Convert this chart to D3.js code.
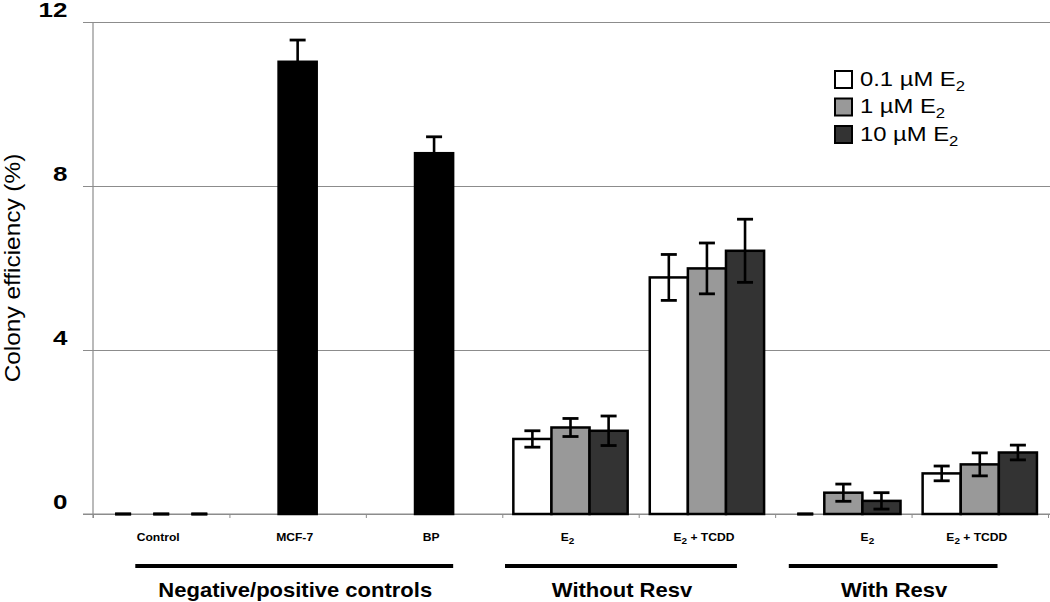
<!DOCTYPE html>
<html>
<head>
<meta charset="utf-8">
<script src="https://cdn.jsdelivr.net/npm/d3@7"></script>
<style>
  html, body { margin: 0; padding: 0; background: #fff; }
  svg { display: block; font-family: "Liberation Sans", Arial, sans-serif; }
</style>
</head>
<body>
<svg id="chart" width="1050" height="602"></svg>
<script>
// ---------------- data ----------------
const categories = ["Control", "MCF-7", "BP", "E2", "E2 + TCDD", "E2", "E2 + TCDD"];
const seriesNames = ["0.1 µM E2", "1 µM E2", "10 µM E2"];
const low      = [0, null, null, 1.83, 5.77, 0,    0.99];
const lowErr   = [0, null, null, 0.20, 0.56, 0,    0.18];
const mid      = [0, 11.03, 8.80, 2.11, 5.99, 0.52, 1.21];
const midErr   = [0, 0.53, 0.40, 0.22, 0.62, 0.21, 0.28];
const high     = [0, null, null, 2.03, 6.42, 0.32, 1.50];
const highErr  = [0, null, null, 0.36, 0.77, 0.20, 0.18];
const positiveControls = ["MCF-7", "BP"];
const groups = ["Negative/positive controls", "Without Resv", "With Resv"];
const yTicks = [0, 4, 8, 12];
const yTitle = "Colony efficiency (%)";

// ---------------- layout ----------------
const svg = d3.select("#chart");
const X0 = 93, X1 = 1048, Y0 = 514, Y1 = 22;
const fills = ["#ffffff", "#999999", "#333333"];

const y = d3.scaleLinear().domain([0, 12]).range([Y0, Y1]);
const xIdx = d3.scaleLinear().domain([0, categories.length]).range([X0, X1]);
const x0 = d3.scaleBand().domain(d3.range(categories.length)).range([X0, X1]).paddingInner(0).paddingOuter(0);
const x1 = d3.scaleBand().domain([0, 1, 2]).range([0, x0.bandwidth()]).paddingInner(0).paddingOuter(0.29);

// ---------------- grid + y axis ----------------
const yAxis = d3.axisLeft(y).tickValues(yTicks).tickSize(-(1050 - X0)).tickFormat(d3.format("d"));
const gy = svg.append("g").attr("transform", `translate(${X0},0)`).call(yAxis);
gy.select(".domain").remove();
gy.selectAll(".tick line").attr("x1", -10).attr("stroke", "#8c8c8c").attr("stroke-width", 1.2);
gy.selectAll(".tick text")
  .attr("x", 0).attr("dy", 0).attr("y", 0)
  .attr("transform", "translate(-25.5,-6) scale(1.3,1)")
  .attr("text-anchor", "end")
  .attr("font-size", 20).attr("font-weight", "bold")
  .attr("font-family", "Liberation Sans, Arial, sans-serif")
  .attr("fill", "#000");
// y axis line
svg.append("line").attr("x1", X0).attr("x2", X0).attr("y1", y(12)).attr("y2", Y0 + 4)
  .attr("stroke", "#8c8c8c").attr("stroke-width", 1.2);

// ---------------- x axis ----------------
const xAxis = d3.axisBottom(xIdx).tickValues(d3.range(0, categories.length + 1)).tickSize(4).tickFormat("");
const gx = svg.append("g").attr("transform", `translate(0,${Y0})`).call(xAxis);
gx.select(".domain").remove();
gx.selectAll(".tick line").attr("stroke", "#8c8c8c").attr("stroke-width", 1);
svg.append("line").attr("x1", X0 - 10).attr("x2", 1050).attr("y1", Y0).attr("y2", Y0)
  .attr("stroke", "#8c8c8c").attr("stroke-width", 1.2);

// ---------------- bars ----------------
const seriesVals = [low, mid, high];
const seriesErr = [lowErr, midErr, highErr];
const barG = svg.append("g");
const errG = svg.append("g");
const capW = 16;
categories.forEach((cat, ci) => {
  seriesVals.forEach((vals, si) => {
    const v = vals[ci];
    if (v === null) return;
    const bx = x0(ci) + x1(si);
    const bw = x1.bandwidth();
    const isPos = positiveControls.includes(cat);
    if (v > 0) {
      barG.append("rect")
        .attr("x", bx).attr("y", y(v)).attr("width", bw).attr("height", y(0) - y(v))
        .attr("fill", isPos ? "#000" : fills[si])
        .attr("stroke", "#000").attr("stroke-width", 2.5);
    }
    const e = seriesErr[si][ci];
    const cx = bx + bw / 2;
    const top = y(v + e), bot = y(Math.max(0, v - e));
    errG.append("line").attr("x1", cx).attr("x2", cx).attr("y1", top).attr("y2", bot)
      .attr("stroke", "#000").attr("stroke-width", 2.6);
    [top, bot].forEach(yy => {
      errG.append("line").attr("x1", cx - capW / 2).attr("x2", cx + capW / 2).attr("y1", yy).attr("y2", yy)
        .attr("stroke", "#000").attr("stroke-width", 2.8);
    });
  });
});

// ---------------- category labels ----------------
const labelShift = { 5: 27 };
categories.forEach((cat, ci) => {
  const cx = x0(ci) + x0.bandwidth() / 2 - 3 + (labelShift[ci] || 0);
  const t = svg.append("text")
    .attr("transform", `translate(${cx},541) scale(1.1,1)`)
    .attr("text-anchor", "middle").attr("font-size", 11).attr("font-weight", "bold");
  const m = cat.match(/^E2(.*)$/);
  if (m) {
    t.append("tspan").text("E");
    t.append("tspan").text("2").attr("font-size", 9).attr("dy", 3);
    if (m[1]) t.append("tspan").text(m[1]).attr("dy", -3);
  } else {
    t.text(cat);
  }
});

// ---------------- group lines & labels ----------------
const groupSpans = [[0.31, 2.64], [3.02, 4.72], [5.1, 6.63]];
groups.forEach((g, gi) => {
  const a = xIdx(groupSpans[gi][0]), b = xIdx(groupSpans[gi][1]);
  svg.append("line").attr("x1", a).attr("x2", b).attr("y1", 566).attr("y2", 566)
    .attr("stroke", "#000").attr("stroke-width", 4);
  svg.append("text")
    .attr("transform", `translate(${(a + b) / 2 + 1},597) scale(1.1,1)`)
    .attr("text-anchor", "middle").attr("font-size", 20).attr("font-weight", "bold")
    .text(g);
});

// ---------------- y title ----------------
svg.append("text")
  .attr("transform", `translate(20,268) rotate(-90) scale(1.22,1.08)`)
  .attr("text-anchor", "middle").attr("font-size", 20)
  .text(yTitle);

// ---------------- legend ----------------
const leg = svg.append("g");
seriesNames.forEach((name, si) => {
  const ry = 71 + si * 27.5;
  leg.append("rect").attr("x", 835).attr("y", ry).attr("width", 17).attr("height", 17)
    .attr("fill", fills[si]).attr("stroke", "#000").attr("stroke-width", 2);
  const t = leg.append("text")
    .attr("transform", `translate(860,${ry + 14.5}) scale(1.19,1)`)
    .attr("font-size", 20);
  const base = name.replace(/2$/, "");
  t.append("tspan").text(base);
  t.append("tspan").text("2").attr("font-size", 14).attr("dy", 5);
});
</script>
</body>
</html>
